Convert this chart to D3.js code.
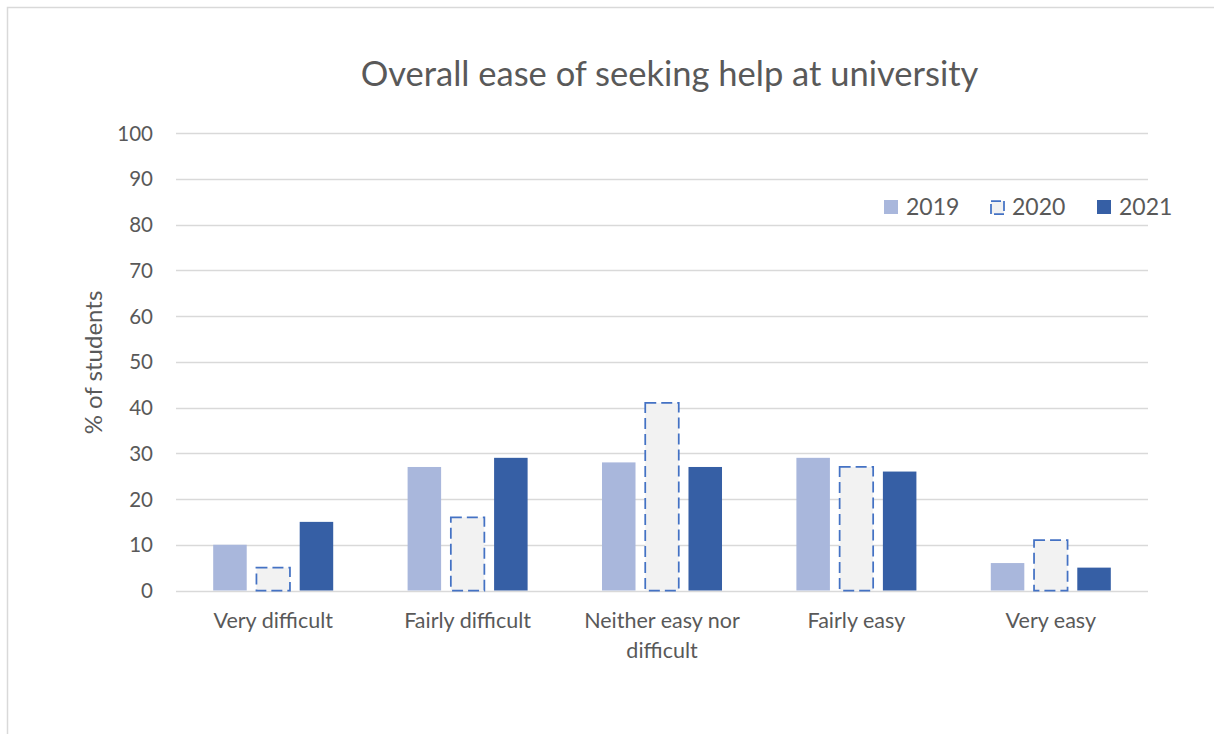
<!DOCTYPE html>
<html>
<head>
<meta charset="utf-8">
<script src="https://cdn.jsdelivr.net/npm/d3@7"></script>
<style>
  html, body { margin: 0; padding: 0; background: #fff; }
  svg { display: block; }
  text { font-family: Lato, "Open Sans", sans-serif; fill: #595959; }
</style>
</head>
<body>
<svg id="chart" width="1214" height="734"></svg>
<script>
// Answer categories and yearly shares of students (%)
const categories = ["Very difficult", "Fairly difficult", "Neither easy nor difficult", "Fairly easy", "Very easy"];
const years = ["2019", "2020", "2021"];
const values2019 = [10, 27, 28, 29, 6];
const values2020 = [5, 16, 41, 27, 11];
const values2021 = [15, 29, 27, 26, 5];
const yTicks = [0, 10, 20, 30, 40, 50, 60, 70, 80, 90, 100];

const seriesValues = [values2019, values2020, values2021];
const series = years.map((y, i) => ({ year: y, values: seriesValues[i] }));

const styles = {
  "2019": { fill: "#A9B7DC", stroke: "none", dash: null },
  "2020": { fill: "#F2F2F2", stroke: "#4472C4", dash: "11,5" },
  "2021": { fill: "#365FA5", stroke: "none", dash: null }
};

const svg = d3.select("#chart");

// outer chart frame
svg.append("path")
  .attr("d", "M7.5,734 V7.5 H1214")
  .attr("fill", "none")
  .attr("stroke", "#D9D9D9")
  .attr("stroke-width", 1.5);

const plot = { left: 176, right: 1148, top: 133, bottom: 590.5 };

const x = d3.scaleBand().domain(categories).range([plot.left, plot.right]).paddingInner(0).paddingOuter(0);
const xInner = d3.scaleBand().domain(years).range([0, x.bandwidth()]).paddingInner(0.225).paddingOuter(0.86);
const y = d3.scaleLinear().domain([0, 100]).range([plot.bottom, plot.top]);

// gridlines
svg.append("g")
  .selectAll("line")
  .data(yTicks)
  .join("line")
  .attr("x1", plot.left)
  .attr("x2", plot.right)
  .attr("y1", d => Math.round(y(d)) + 0.5)
  .attr("y2", d => Math.round(y(d)) + 0.5)
  .attr("stroke", "#D9D9D9")
  .attr("stroke-width", 1.5);

// y axis labels
const yAxis = d3.axisLeft(y).tickValues(yTicks).tickSize(0).tickPadding(0);
const yG = svg.append("g").attr("transform", `translate(${plot.left - 23},0)`).call(yAxis);
yG.select(".domain").remove();
yG.selectAll("text")
  .style("font-family", "Lato, 'Open Sans', sans-serif")
  .attr("font-size", 20.5)
  .attr("fill", "#595959")
  .attr("dy", "0.35em");

// bars
const groups = svg.append("g")
  .selectAll("g")
  .data(series)
  .join("g");

groups.selectAll("rect")
  .data(s => s.values.map((v, i) => ({ year: s.year, cat: categories[i], value: v })))
  .join("rect")
  .attr("x", d => x(d.cat) + xInner(d.year))
  .attr("width", xInner.bandwidth())
  .attr("y", d => y(d.value))
  .attr("height", d => y(0) - y(d.value))
  .attr("fill", d => styles[d.year].fill)
  .attr("stroke", d => styles[d.year].stroke)
  .attr("stroke-width", 1.75)
  .attr("stroke-dasharray", d => styles[d.year].dash);

// x axis category labels (wrapped)
const xAxis = d3.axisBottom(x).tickSize(0).tickPadding(0);
const xG = svg.append("g").attr("transform", `translate(0,${plot.bottom})`).call(xAxis);
xG.select(".domain").remove();
xG.selectAll("text").remove();
const lines = {
  "Very difficult": ["Very difficult"],
  "Fairly difficult": ["Fairly difficult"],
  "Neither easy nor difficult": ["Neither easy nor", "difficult"],
  "Fairly easy": ["Fairly easy"],
  "Very easy": ["Very easy"]
};
xG.selectAll(".tick").each(function(d) {
  const t = d3.select(this).append("text")
    .attr("text-anchor", "middle")
    .attr("font-size", 21.5)
    .style("font-family", "Lato, 'Open Sans', sans-serif")
    .attr("fill", "#595959");
  lines[d].forEach((ln, i) => {
    t.append("tspan").attr("x", 0).attr("y", 37 + i * 30).text(ln);
  });
});

// y axis title
svg.append("text")
  .attr("transform", `translate(102,${(290 + 435) / 2}) rotate(-90)`)
  .attr("text-anchor", "middle")
  .attr("font-size", 24)
  .text("% of students");

// chart title
svg.append("text")
  .attr("x", 669.5)
  .attr("y", 86)
  .attr("text-anchor", "middle")
  .attr("font-size", 34.5)
  .text("Overall ease of seeking help at university");

// legend
const legendX = [884, 990, 1097];
const legend = svg.append("g")
  .selectAll("g")
  .data(years)
  .join("g")
  .attr("transform", (d, i) => `translate(${legendX[i]},207)`);
legend.append("rect")
  .attr("x", d => styles[d].stroke === "none" ? 0 : 1)
  .attr("y", d => styles[d].stroke === "none" ? -7 : -6)
  .attr("width", d => styles[d].stroke === "none" ? 14 : 13)
  .attr("height", d => styles[d].stroke === "none" ? 14 : 13)
  .attr("fill", d => styles[d].fill)
  .attr("stroke", d => styles[d].stroke)
  .attr("stroke-width", 1.75)
  .attr("stroke-dasharray", d => styles[d].dash ? "10,3" : null);
legend.append("text")
  .attr("x", 22)
  .attr("dy", "0.35em")
  .attr("font-size", 23)
  .text(d => d);
</script>
</body>
</html>
